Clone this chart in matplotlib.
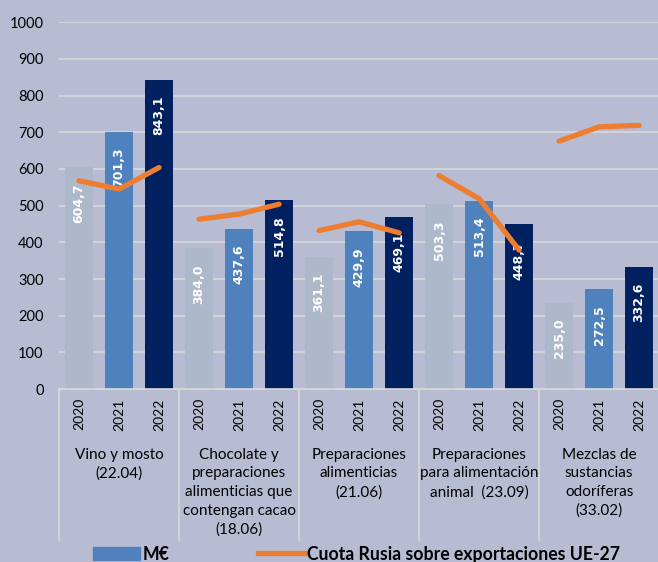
import numpy as np
import matplotlib
matplotlib.use("Agg")
import matplotlib.pyplot as plt
from matplotlib.patches import Patch
from matplotlib.lines import Line2D

plt.rcParams['font.family'] = ['Lato', 'DejaVu Sans']

# data
categories = ["Vino y mosto\n(22.04)",
              "Chocolate y\npreparaciones\nalimenticias que\ncontengan cacao\n(18.06)",
              "Preparaciones\nalimenticias\n(21.06)",
              "Preparaciones\npara alimentación\nanimal  (23.09)",
              "Mezclas de\nsustancias\nodoríferas\n(33.02)"]
years = ["2020", "2021", "2022"]
v2020 = [604.7, 384.0, 361.1, 503.3, 235.0]
v2021 = [701.3, 437.6, 429.9, 513.4, 272.5]
v2022 = [843.1, 514.8, 469.1, 448.7, 332.6]
# Russia share of EU-27 exports (%), hidden secondary axis
cuota = [[5.68, 5.45, 6.04],
         [4.63, 4.77, 5.04],
         [4.32, 4.56, 4.26],
         [5.82, 5.19, 3.79],
         [6.76, 7.15, 7.19]]

bg = "#B8BCD3"
grid_c = "#D9D9D9"
bar_colors = ["#ADB9CA", "#4F81BD", "#002060"]
orange = "#ED7D31"

fig = plt.figure(figsize=(6.58, 5.62), dpi=100, facecolor=bg)
ax = fig.add_axes([0.0897, 0.3078, 0.912, 0.6525])
ax.set_facecolor(bg)

series = [v2020, v2021, v2022]
for j, vals in enumerate(series):
    xs = np.arange(len(categories)) * 3 + j
    bars = ax.bar(xs, vals, width=0.7, color=bar_colors[j], zorder=2)
    for b, v in zip(bars, vals):
        ax.annotate(f"{v:.1f}".replace(".", ","),
                    (b.get_x() + b.get_width() / 2, v),
                    xytext=(0, -11.5), textcoords="offset points",
                    rotation=90, ha="center", va="top", color="white",
                    fontsize=9, fontweight="bold", family="DejaVu Sans",
                    zorder=3)

ax.set_xlim(-0.5, len(categories) * 3 - 0.5)
ax.set_ylim(0, 1000)
ax.set_yticks(np.arange(0, 1001, 100))
ax.tick_params(axis="y", length=0, pad=11, labelsize=10.5, colors="black")
ax.set_xticks([])
ax.yaxis.grid(True, color=grid_c, lw=1.2, zorder=1)
ax.set_axisbelow(True)
for s in ["left", "right", "top"]:
    ax.spines[s].set_visible(False)
ax.spines["bottom"].set_color(grid_c)
ax.spines["bottom"].set_linewidth(1.2)

# year labels, category labels and separators under the axis
trans = ax.get_xaxis_transform()
for g, cat in enumerate(categories):
    for j, yr in enumerate(years):
        ax.text(g * 3 + j, -0.025, yr, rotation=90, ha="center", va="top",
                fontsize=10, transform=trans)
    ax.text(g * 3 + 1, -0.16, cat, ha="center", va="top", fontsize=11,
            linespacing=1.42, transform=trans)
for g in range(len(categories) + 1):
    ax.plot([g * 3 - 0.5, g * 3 - 0.5], [0, -0.412], color=grid_c, lw=1.2,
            transform=trans, clip_on=False)

# share line on a hidden secondary axis
ax2 = ax.twinx()
ax2.set_ylim(0, 10)
ax2.axis("off")
for g, c in enumerate(cuota):
    ax2.plot(np.arange(3) + g * 3, c, color=orange, lw=3.8,
             solid_capstyle="round", solid_joinstyle="round", zorder=5)

handles = [Patch(color=bar_colors[1], label="M€"),
           Line2D([], [], color=orange, lw=3.8, label="Cuota Rusia sobre exportaciones UE-27")]
fig.legend(handles=handles, loc="center", bbox_to_anchor=(0.542, 0.014), ncol=2,
           frameon=False, handlelength=2.67, handletextpad=0.12, columnspacing=5.0,
           prop={"weight": "bold", "size": 12.7})

fig.savefig("out.png", dpi=100, facecolor=bg)
